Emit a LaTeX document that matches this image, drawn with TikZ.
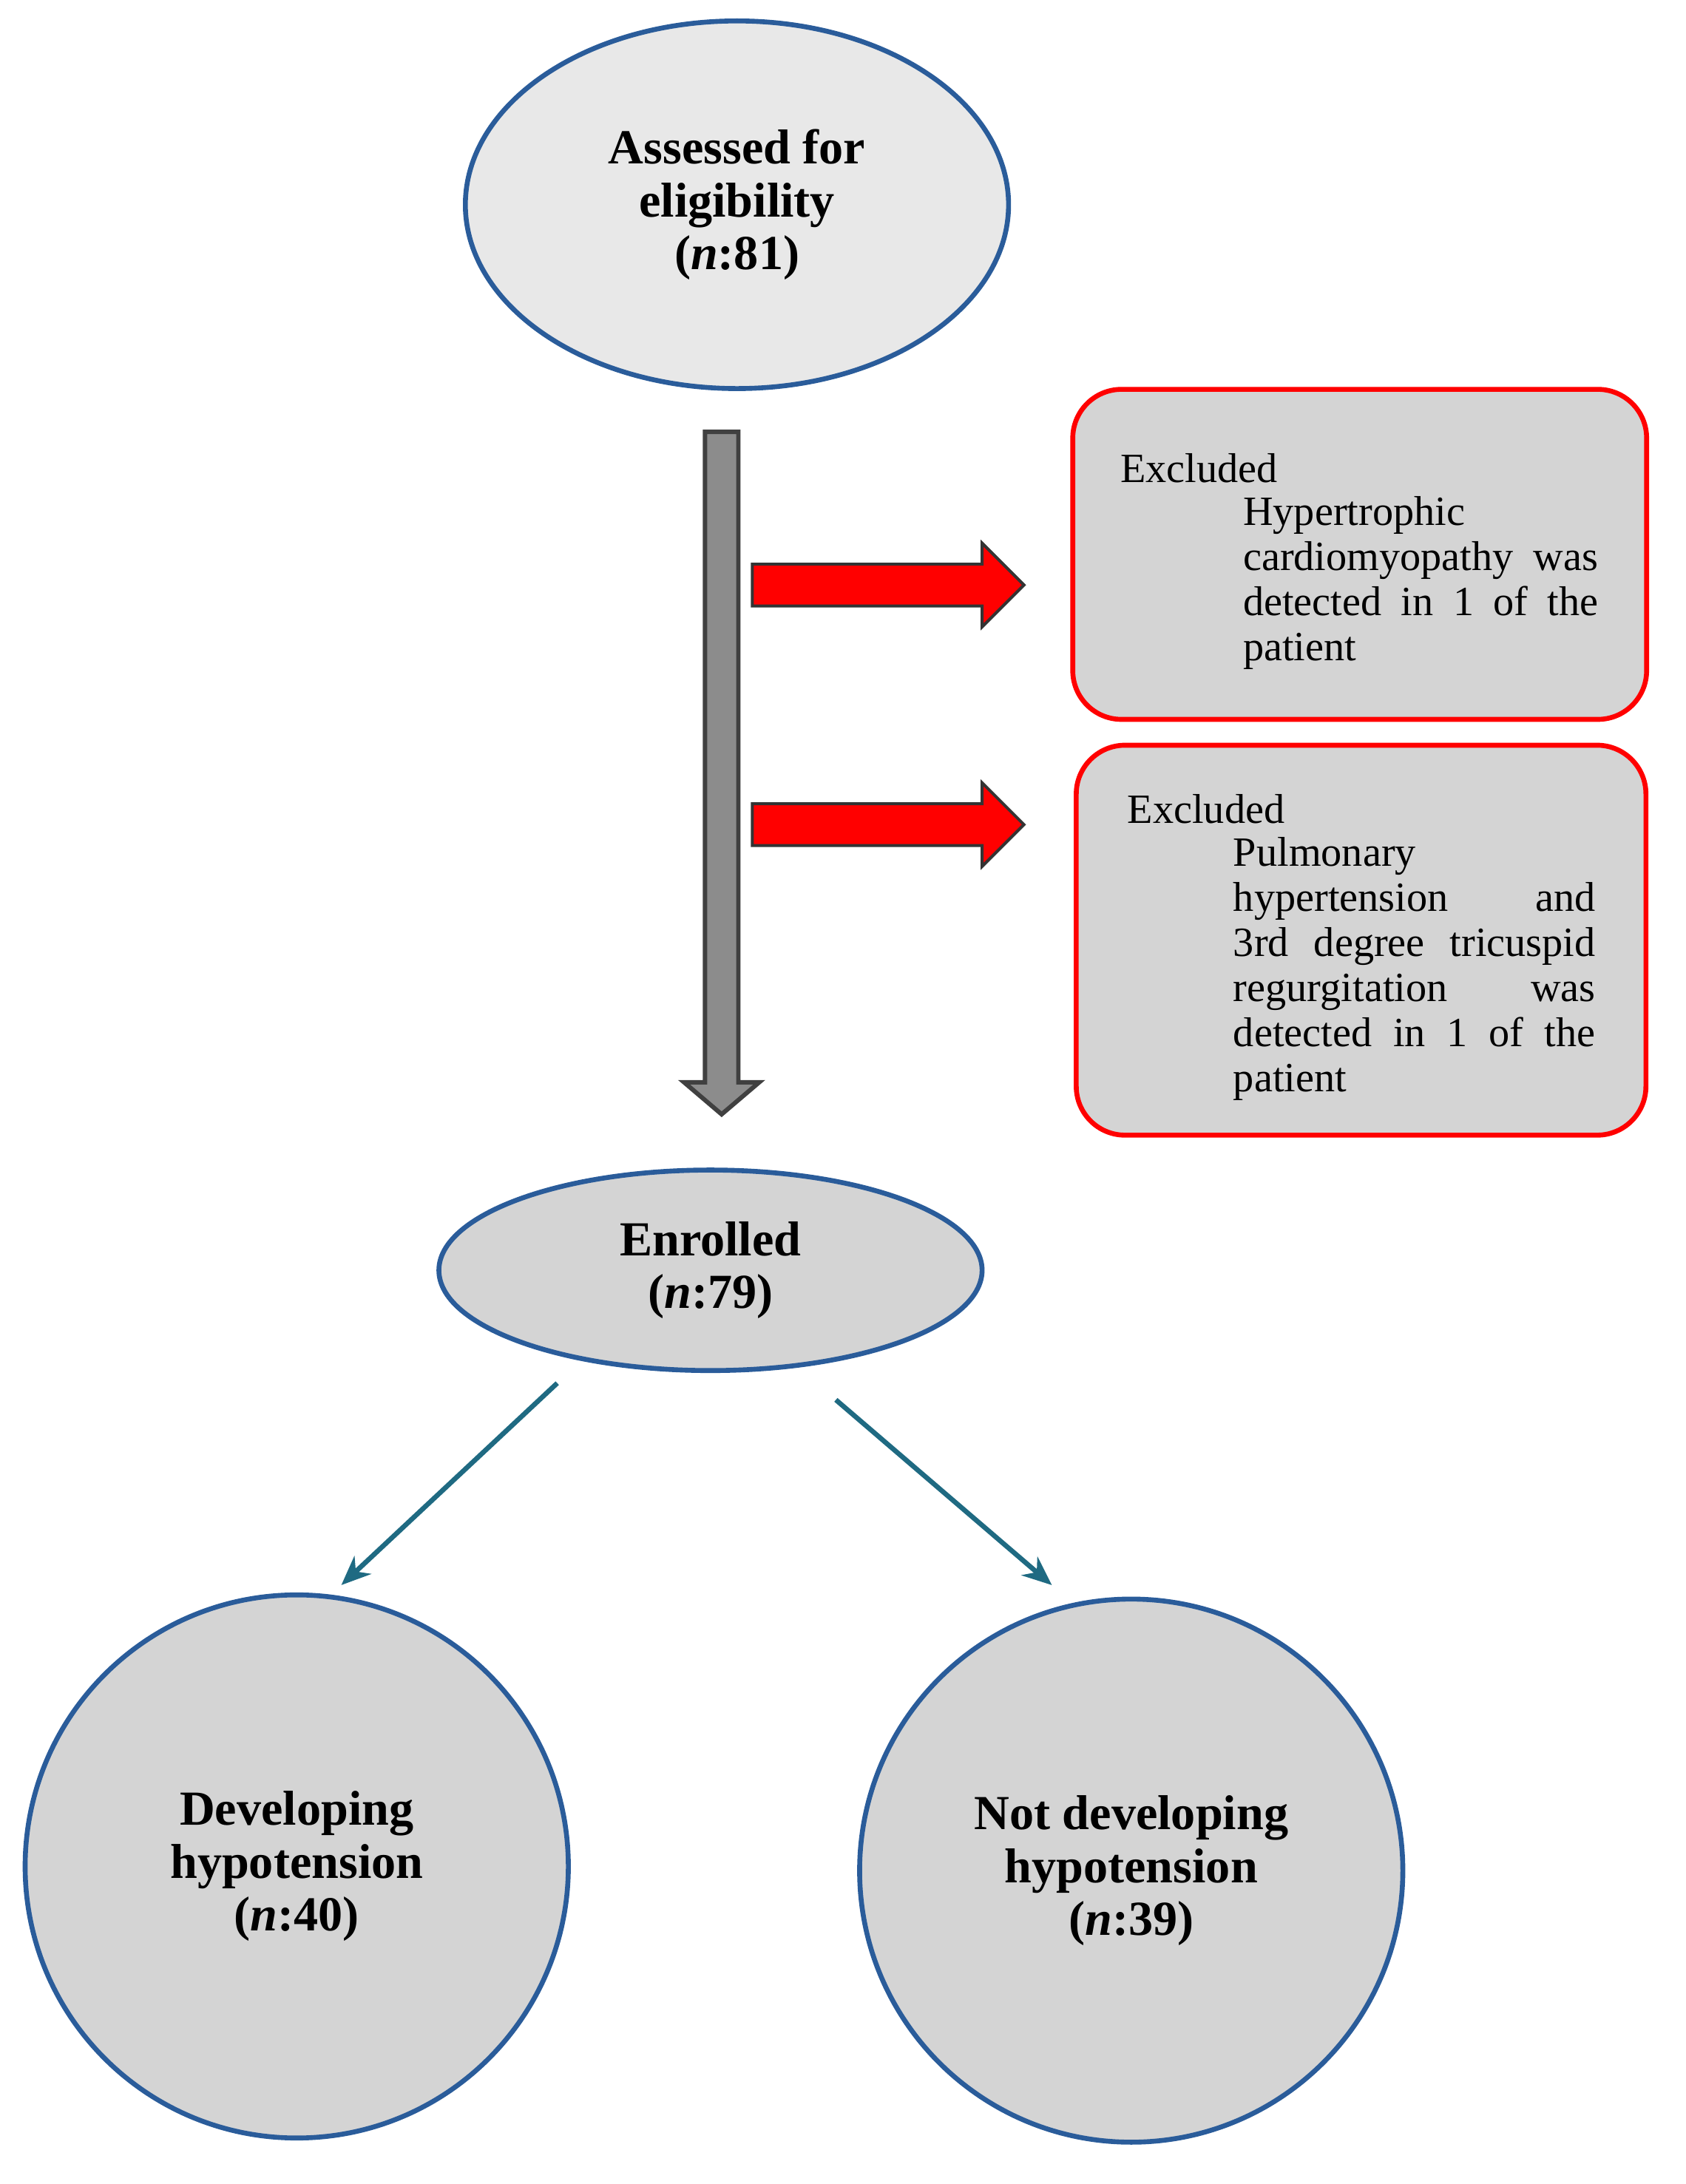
\documentclass[tikz,border=0pt]{standalone}
\usepackage{fontspec}
\setmainfont{Liberation Serif}
\usetikzlibrary{shapes.geometric,arrows.meta}
\definecolor{rimblue}{HTML}{2A5C9A}
\definecolor{fillgrey}{HTML}{D4D4D4}
\definecolor{topgrey}{HTML}{E8E8E8}
\definecolor{teal}{HTML}{1F6A82}
\newcommand{\nohyph}{\hyphenpenalty=10000\relax\exhyphenpenalty=10000\relax}
\begin{document}
\begin{tikzpicture}[x=0.02cm,y=-0.02cm]
	\tikzstyle{oval}=[ellipse, draw=rimblue, line width=2pt, fill=fillgrey, align=center, font=\fontsize{20}{21.6}\selectfont\bfseries, inner sep=0pt]
	\tikzstyle{exbox}=[draw=red, line width=2pt, fill=fillgrey, rounded corners=0.7cm]
	\tikzstyle{extext}=[align=justify, font=\fontsize{17}{18.4}\selectfont\nohyph, inner sep=0pt, anchor=north west]
	\tikzstyle{flow}=[draw=teal, line width=2pt, -{Stealth[length=12pt,width=10pt]}]
	\useasboundingbox (0,0) rectangle (1210,1568);
	% Ovals
	\node[oval, fill=topgrey, minimum width=7.8cm, minimum height=5.28cm] (assessed) at (529,147) {Assessed for\\eligibility\\(\textit{n}:81)};
	\node[oval, minimum width=7.8cm, minimum height=2.88cm] (enrolled) at (510,912) {Enrolled\\(\textit{n}:79)};
	\node[oval, circle, minimum size=7.8cm] (dev) at (213,1340) {Developing\\hypotension\\(\textit{n}:40)};
	\node[oval, circle, minimum size=7.8cm] (notdev) at (812,1343) {Not developing\\hypotension\\(\textit{n}:39)};
	%---------------------%
	% Grey arrow
	\draw[fill=gray!90, draw=black!75, line width=1.8pt] (506,310) -- (530,310) -- (530,777) -- (545,777) -- (518,800) -- (491,777) -- (506,777) -- cycle;
	% Red arrows
	\foreach \y in {420,592}
		\draw[fill=red, draw=black!80, line width=1.2pt] (540,\y-15) -- (705,\y-15) -- (705,\y-30) -- (735,\y) -- (705,\y+30) -- (705,\y+15) -- (540,\y+15) -- cycle;
	%---------------------%
	% Excluded boxes
	\node[exbox, minimum width=8.24cm, minimum height=4.74cm] (ex1) at (976,398) {};
	\node[extext, anchor=west] (ex1h) at (804,336) {Excluded};
	\node[extext, text width=5.1cm] (ex1t) at (892,356) {Hypertrophic cardiomyopathy was detected in 1 of the patient};
	\node[exbox, minimum width=8.18cm, minimum height=5.6cm] (ex2) at (977,675) {};
	\node[extext, anchor=west] (ex2h) at (809,581) {Excluded};
	\node[extext, text width=5.2cm] (ex2t) at (885,601) {Pulmonary hypertension and 3rd degree tricuspid regurgitation was detected in 1 of the patient};
	%---------------------%
	% Enrolled -> groups
	\coordinate (l0) at (400,993);
	\coordinate (r0) at (600,1005);
	\coordinate (l1) at (245,1138);
	\coordinate (r1) at (755,1138);
	\draw[flow] (l0) -- (l1);
	\draw[flow] (r0) -- (r1);
\end{tikzpicture}
\end{document}
